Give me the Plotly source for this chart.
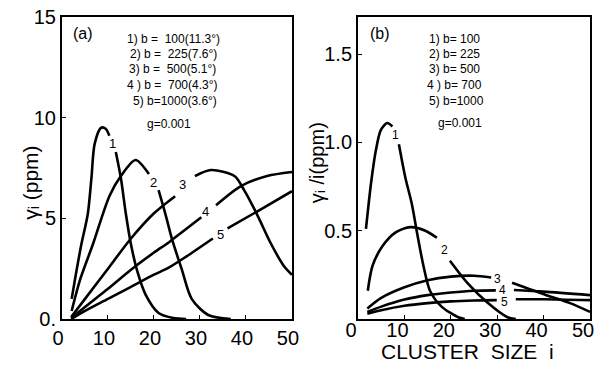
import plotly.graph_objects as go

# ---------------- data ----------------
# Panel (a): gamma_i (ppm) vs cluster size i ; None marks the gap where the curve label sits
a1_x = [2.1, 3, 4.2, 5.6, 6.4, 7.1, 8.5, 9.5, 10.3, None, 11.7, 12.8, 13.9, 15, 16.4, 18.2, 21, 24.2, 27]
a1_y = [1.0, 2.2, 3.7, 5.2, 7.0, 8.7, 9.5, 9.45, 9.1, None, 8.3, 7.0, 5.2, 3.7, 2.35, 1.2, 0.3, 0.05, 0]
a2_x = [2.1, 4, 6.7, 10.3, 12.8, 16, 18.9, None, 21, 22.5, 24, 26, 28.2, 31.8, 36.7]
a2_y = [0.4, 2.0, 3.7, 6.1, 7.1, 7.9, 7.2, None, 6.4, 5.2, 3.9, 2.5, 1.0, 0.2, 0]
a3_x = [2, 5, 10, 15, 20, 24.6, None, 28.9, 32.4, 37.5, 39.6, 42.5, 45.3, 48.2, 50]
a3_y = [0.1, 1.0, 2.5, 4.0, 5.25, 6.1, None, 7.1, 7.4, 7.1, 6.4, 5.15, 3.8, 2.65, 2.2]
a4_x = [2, 5, 10, 15, 20, 23.2, 26, 30.3, None, 33.5, 38.9, 44.6, 50]
a4_y = [0.05, 0.6, 1.5, 2.45, 3.3, 3.8, 4.3, 5.05, None, 5.65, 6.6, 7.1, 7.3]
a5_x = [2, 5, 10, 15, 20, 23.2, 27, 32.8, None, 36, 42.5, 50]
a5_y = [0.0, 0.4, 1.0, 1.6, 2.2, 2.55, 3.1, 4.0, None, 4.5, 5.35, 6.35]

# Panel (b): gamma_i / i (ppm) vs cluster size i
b1_x = [1.7, 2.8, 3.8, 4.9, 6.3, 7.4, None, 8.8, 10.2, 11.6, 12.7, 14.1, 15.5, 18, 21.6, 23]
b1_y = [0.51, 0.77, 0.95, 1.07, 1.11, 1.09, None, 0.99, 0.80, 0.65, 0.49, 0.30, 0.16, 0.07, 0.01, 0]
b2_x = [2.1, 3.1, 5.2, 8.1, 11.3, 14.5, 17, None, 19.8, 23.7, 28, 32.2, 34]
b2_y = [0.16, 0.30, 0.41, 0.49, 0.52, 0.50, 0.46, None, 0.33, 0.20, 0.09, 0.01, 0]
b3_x = [2, 5, 10, 15, 20, 25, 28.7, None, 33.2, 40.6, 45.7, 50]
b3_y = [0.06, 0.12, 0.18, 0.22, 0.24, 0.245, 0.235, None, 0.205, 0.135, 0.09, 0.04]
b4_x = [2, 5, 10, 15, 20, 25, 29.7, None, 33.6, 40, 50]
b4_y = [0.04, 0.07, 0.11, 0.135, 0.15, 0.16, 0.162, None, 0.164, 0.155, 0.135]
b5_x = [2, 5, 10, 15, 20, 25, 29.9, None, 34, 40, 50]
b5_y = [0.03, 0.05, 0.075, 0.09, 0.1, 0.105, 0.107, None, 0.112, 0.112, 0.107]

curve_names = ["1", "2", "3", "4", "5"]
a_label_x = [11.0, 20.0, 26.2, 31.2, 34.4]
a_label_y = [8.7, 6.8, 6.7, 5.35, 4.2]
b_label_x = [8.1, 18.7, 30.1, 31.1, 31.5]
b_label_y = [1.04, 0.39, 0.228, 0.165, 0.098]

a_legend = ["1) b =  100(11.3°)", "2) b =  225(7.6°)", "3) b =  500(5.1°)",
            "4 ) b =  700(4.3°)", "5) b=1000(3.6°)"]
b_legend = ["1) b= 100", "2) b= 225", "3) b= 500", "4 ) b= 700", "5) b=1000"]
g_text = "g=0.001"

x_ticks = [0, 10, 20, 30, 40, 50]
a_yticks = [0, 5, 10, 15]
a_yticktext = ["0.", "5", "10", "15"]
b_yticks = [0.5, 1.0, 1.5]
b_yticktext = ["0.5", "1.0", "1.5"]

# ---------------- figure ----------------
FONT = "Liberation Sans"
fig = go.Figure()
line = dict(color="black", width=2.6, shape="spline", smoothing=0.8)

for xs, ys in [(a1_x, a1_y), (a2_x, a2_y), (a3_x, a3_y), (a4_x, a4_y), (a5_x, a5_y)]:
    fig.add_trace(go.Scatter(x=xs, y=ys, mode="lines", line=line, xaxis="x", yaxis="y",
                             showlegend=False))
for xs, ys in [(b1_x, b1_y), (b2_x, b2_y), (b3_x, b3_y), (b4_x, b4_y), (b5_x, b5_y)]:
    fig.add_trace(go.Scatter(x=xs, y=ys, mode="lines", line=line, xaxis="x2", yaxis="y2",
                             showlegend=False))

W, H = 603, 366
L1, R1, L2, R2, TOP, BOT = 62, 295, 362, 597, 16, 319
axcommon = dict(showline=True, linecolor="black", linewidth=2, mirror=True,
                showgrid=False, zeroline=False, ticks="inside", ticklen=4,
                tickcolor="black", tickwidth=1,
                tickfont=dict(family=FONT, size=20, color="black"))

fig.update_layout(
    width=W, height=H, margin=dict(l=L1, r=W - R2, t=TOP, b=H - BOT),
    paper_bgcolor="white", plot_bgcolor="white",
    xaxis=dict(domain=[0, (R1 - L1) / (R2 - L1)], range=[0, 50], tickvals=x_ticks,
               anchor="y", ticklabelshift=-4, **axcommon),
    yaxis=dict(domain=[0, 1], range=[0, 15], tickvals=a_yticks,
               ticktext=a_yticktext, anchor="x", **axcommon),
    xaxis2=dict(domain=[(L2 - L1) / (R2 - L1), 1], range=[0, 50], tickvals=x_ticks,
                anchor="y2", ticklabelshift=-7, ticklabelstandoff=-8, **axcommon),
    yaxis2=dict(domain=[0, 1], range=[0, 1.71], tickvals=b_yticks,
                ticktext=b_yticktext, anchor="x2", **axcommon),
)

def note(text, px, py, size, angle=0):
    return dict(text=text, x=(px - L1) / (R2 - L1), y=(BOT - py) / (BOT - TOP),
                xref="paper", yref="paper",
                xanchor="center", yanchor="middle", showarrow=False, textangle=angle,
                font=dict(family=FONT, size=size, color="black"))

ann = [note("(a)", 83, 33, 16), note("(b)", 384, 33, 16)]
leg_y = [38, 53, 68, 84, 100]
for t, yy, xx in zip(a_legend, leg_y, [175, 175, 174, 174, 176]):
    ann.append(note(t, xx, yy, 12))
for t, yy, xx in zip(b_legend, leg_y, [460, 460, 460, 460, 462]):
    ann.append(note(t, xx, yy, 12))
ann.append(note(g_text, 170, 123, 12))
ann.append(note(g_text, 465, 122, 12))
ann.append(note("γᵢ (ppm)", 30, 182, 21, -90))
ann.append(note("γᵢ /i(ppm)", 320, 162, 20, -90))
ann.append(note("CLUSTER  SIZE  i", 473, 352, 21))
# curve number labels placed in data coordinates
for t, xx, yy in zip(curve_names, a_label_x, a_label_y):
    ann.append(dict(text=t, x=xx, y=yy, xref="x", yref="y", showarrow=False,
                    font=dict(family=FONT, size=13, color="black")))
for t, xx, yy in zip(curve_names, b_label_x, b_label_y):
    ann.append(dict(text=t, x=xx, y=yy, xref="x2", yref="y2", showarrow=False,
                    font=dict(family=FONT, size=12, color="black")))
fig.update_layout(annotations=ann)

fig.write_html("out.html")
